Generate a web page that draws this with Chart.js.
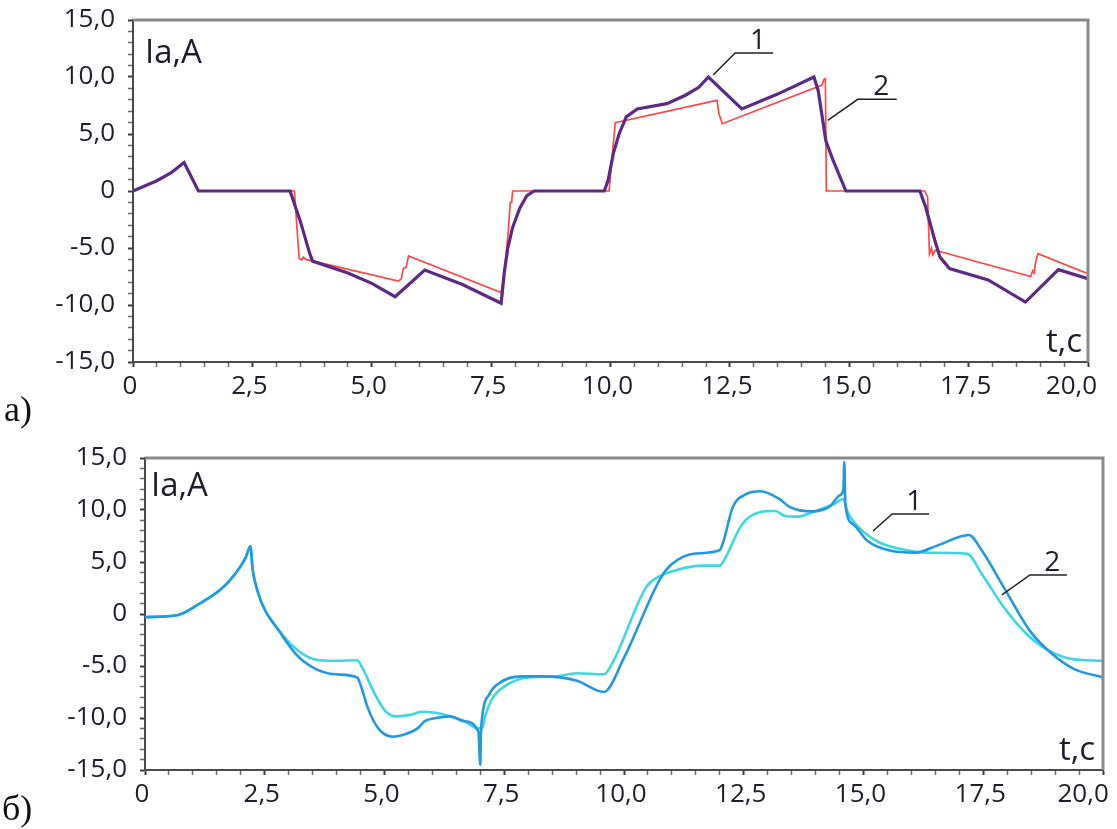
<!DOCTYPE html>
<html>
<head>
<meta charset="utf-8">
<script src="https://cdn.jsdelivr.net/npm/chart.js@4.4.1/dist/chart.umd.min.js"></script>
<style>
  html, body { margin: 0; padding: 0; background: #fff; }
  #wrap { position: relative; width: 1117px; height: 829px; overflow: hidden; background: #fff; }
  canvas { position: absolute; left: 0; }
  #chartA { top: 0; }
  #chartB { top: 430px; }
  .tag { position: absolute; font-family: "Liberation Serif", "DejaVu Serif", serif; font-size: 36px; line-height: 36px; color: #111; }
</style>
</head>
<body>
<div id="wrap">
  <canvas id="chartA" width="1117" height="430"></canvas>
  <canvas id="chartB" width="1117" height="399"></canvas>
  <div class="tag" style="left:4px; top:391px;">а)</div>
  <div class="tag" style="left:2px; top:790px;">б)</div>
</div>
<script>
// Axis ticks (shared by both panels)
const xTickValues = [0, 2.5, 5, 7.5, 10, 12.5, 15, 17.5, 20];
const xTickLabels = ['0', '2,5', '5,0', '7,5', '10,0', '12,5', '15,0', '17,5', '20,0'];
const yTickValues = [-15, -10, -5, 0, 5, 10, 15];
const yTickLabels = ['-15,0', '-10,0', '-5.0', '0', '5,0', '10,0', '15,0'];

// Panel а) — curve 1 (time, s / current, A)
const tA1 = [0, 0.5, 0.8, 1.07, 1.37, 3.29, 3.5, 3.70, 3.76, 4.5, 5.0, 5.49, 6.11, 6.9, 7.71,
  7.78, 7.85, 7.95, 8.1, 8.25, 8.40, 9.87, 9.95, 10.06, 10.18, 10.33, 10.56, 11.18, 11.57, 11.85,
  12.05, 12.75, 13.5, 14.26, 14.35, 14.51, 14.66, 14.93, 16.48, 16.6, 16.79, 16.9, 17.1, 17.91,
  18.69, 19.38, 20];
const iA1 = [0, 0.9, 1.6, 2.5, 0, 0, -2.6, -5.47, -6.15, -7.2, -8.1, -9.27, -6.93, -8.2, -9.85,
  -7.0, -5.0, -3.2, -1.5, -0.4, 0, 0, 0.94, 3.3, 5.0, 6.5, 7.2, 7.66, 8.4, 9.1,
  10.0, 7.2, 8.5, 10.0, 8.8, 4.4, 2.7, 0, 0, -1.4, -4.3, -5.8, -6.8, -7.8,
  -9.74, -6.9, -7.7];

// Panel а) — curve 2
const tA2 = [0, 0.5, 0.8, 1.07, 1.37, 3.38, 3.43, 3.48, 3.53, 3.57, 3.62, 5.56, 5.62, 5.66, 5.72,
  5.77, 7.71, 7.78, 7.86, 7.90, 7.93, 7.95, 9.97, 10.1, 12.23, 12.27, 12.34, 14.43, 14.47, 14.50,
  14.52, 16.58, 16.64, 16.68, 16.72, 16.75, 16.8, 18.8, 18.84, 18.87, 18.9, 18.95, 20];
const iA2 = [0, 0.9, 1.6, 2.5, 0, 0, -3.0, -5.9, -6.05, -5.8, -6.0, -7.9, -7.7, -6.8, -6.7,
  -5.7, -8.9, -7.0, -3.5, -1.0, -1.0, 0, 0, 6.0, 7.95, 6.8, 5.9, 9.3, 9.8, 9.85,
  0, 0, -0.5, -5.5, -5.0, -5.6, -5.2, -7.5, -7.0, -7.2, -6.3, -5.5, -7.25];

// Panel б) — curve 1
const tB1 = [0, 0.69, 1.14, 1.59, 1.89, 2.1, 2.2, 2.25, 2.35, 2.49, 2.78, 3.16, 3.53, 3.98, 4.43,
  4.54, 4.8, 5.02, 5.25, 5.54, 5.77, 6.07, 6.37, 6.66, 6.96, 7.04, 7.11, 7.26, 7.56, 8.0,
  8.6, 9.0, 9.58, 9.77, 10.46, 10.69, 11.16, 11.62, 12.0, 12.08, 12.47, 12.85, 13.16, 13.35, 13.62,
  14.0, 14.39, 14.58, 14.66, 14.93, 15.32, 15.78, 16.32, 17.16, 17.47, 17.93, 18.4, 18.86, 19.32, 20];
const iB1 = [-0.3, -0.1, 1.0, 2.4, 3.9, 5.4, 6.5, 4.2, 2.2, 0.5, -1.5, -3.4, -4.35, -4.5, -4.45,
  -5.2, -7.7, -9.35, -9.84, -9.7, -9.4, -9.5, -9.84, -10.3, -11.0, -10.97, -9.7, -8.06, -6.8, -6.1,
  -6.0, -5.7, -5.8, -4.6, 2.56, 3.5, 4.3, 4.65, 4.65, 5.1, 8.65, 9.8, 9.9, 9.45, 9.36,
  9.9, 10.6, 11.06, 9.9, 8.2, 6.9, 6.25, 5.9, 5.8, 3.85, 0.64, -1.9, -3.5, -4.3, -4.5];

// Panel б) — curve 2
const tB2 = [0, 0.69, 1.14, 1.59, 1.89, 2.1, 2.2, 2.25, 2.35, 2.49, 2.78, 3.16, 3.53, 3.98, 4.43,
  4.5, 4.65, 4.87, 5.17, 5.4, 5.69, 5.84, 6.07, 6.37, 6.66, 6.96, 7.0, 7.01, 7.04, 7.19,
  7.41, 7.86, 8.3, 9.0, 9.58, 10.0, 10.77, 11.0, 11.46, 12.0, 12.08, 12.27, 12.54, 12.85, 13.24,
  13.47, 13.93, 14.31, 14.5, 14.58, 14.6, 14.62, 14.78, 15.08, 15.55, 16.09, 16.55, 17.2, 17.47, 17.93,
  18.47, 18.94, 19.4, 20];
const iB2 = [-0.3, -0.1, 1.0, 2.4, 3.9, 5.4, 6.5, 4.2, 2.2, 0.5, -1.5, -3.9, -5.2, -5.8, -6.1,
  -6.8, -9.0, -11.0, -11.8, -11.6, -11.0, -10.3, -10.0, -9.84, -10.3, -11.3, -14.5, -12.0, -9.9, -7.7,
  -6.6, -6.0, -6.0, -6.4, -7.5, -4.2, 3.5, 4.8, 5.8, 6.15, 7.05, 10.26, 11.5, 11.8, 11.06,
  10.26, 9.87, 10.4, 11.4, 12.0, 14.6, 10.6, 8.65, 7.05, 6.1, 5.9, 6.6, 7.6, 6.1, 2.56,
  -1.6, -3.85, -5.3, -6.1];

const TEXT = '#1d1d2b';
const FONT = '"Open Sans", "Noto Sans", sans-serif';

const toPoints = (ts, vs) => ts.map((t, i) => ({ x: t, y: vs[i] }));
const near = (a, b) => Math.abs(a - b) < 1e-6;

// Frame, axis captions and numbered callouts
const decor = {
  id: 'decor',
  afterDatasetsDraw(chart, args, o) {
    const { ctx, chartArea: a, scales: { x, y } } = chart;
    ctx.save();
    ctx.strokeStyle = '#8a8a8a';
    ctx.lineWidth = 3;
    ctx.beginPath();
    ctx.moveTo(a.left, a.top);
    ctx.lineTo(a.right, a.top);
    ctx.lineTo(a.right, a.bottom);
    ctx.stroke();

    ctx.fillStyle = TEXT;
    ctx.font = '33px ' + FONT;
    ctx.textBaseline = 'alphabetic';
    ctx.textAlign = 'left';
    ctx.fillText('Ia,A', a.left + o.yTitle[0], a.top + o.yTitle[1]);
    ctx.textAlign = 'right';
    ctx.fillText('t,c', a.right - o.xTitle[0], a.bottom - o.xTitle[1]);

    ctx.font = '28px ' + FONT;
    ctx.textAlign = 'center';
    ctx.strokeStyle = '#222';
    ctx.lineWidth = 1.5;
    o.callouts.forEach(c => {
      const px = x.getPixelForValue(c.t);
      const py = y.getPixelForValue(c.v);
      const ex = px + c.dx, ey = py + c.dy;
      ctx.beginPath();
      ctx.moveTo(px, py);
      ctx.lineTo(ex, ey);
      ctx.lineTo(ex + c.len, ey);
      ctx.stroke();
      ctx.fillText(c.text, ex + c.len * 0.6, ey - 4);
    });
    ctx.restore();
  }
};

function makeScales(yWidth, xHeight, lastPad) {
  return {
    x: {
      type: 'linear', min: 0, max: 20, position: 'bottom',
      border: { display: true, color: '#4a4a4a', width: 2 },
      grid: {
        drawOnChartArea: false, drawTicks: true, tickLength: 5,
        tickColor: c => xTickValues.some(v => near(v, c.tick && c.tick.value)) ? '#3c3c3c' : '#6a6a6a',
        tickWidth: c => xTickValues.some(v => near(v, c.tick && c.tick.value)) ? 2 : 1.5
      },
      ticks: {
        stepSize: 0.5, autoSkip: false, maxRotation: 0, minRotation: 0,
        padding: 4, labelOffset: -3, color: TEXT,
        font: { family: FONT, size: 26 },
        callback: v => {
          const k = xTickValues.findIndex(t => near(t, v));
          if (k < 0) return '';
          return k === xTickValues.length - 1 ? xTickLabels[k] + ' '.repeat(lastPad) : xTickLabels[k];
        }
      },
      afterFit(s) { s.height = xHeight; s.paddingLeft = 0; s.paddingRight = 0; }
    },
    y: {
      type: 'linear', min: -15, max: 15, position: 'left',
      border: { display: true, color: '#4a4a4a', width: 2 },
      grid: {
        drawOnChartArea: false, drawTicks: true, tickLength: 5,
        tickColor: c => yTickValues.includes(c.tick && c.tick.value) ? '#3c3c3c' : '#6a6a6a',
        tickWidth: c => yTickValues.includes(c.tick && c.tick.value) ? 2 : 1.5
      },
      ticks: {
        stepSize: 1, autoSkip: false, padding: 13, color: TEXT,
        font: { family: FONT, size: 26 },
        callback: v => {
          const k = yTickValues.indexOf(v);
          return k < 0 ? '' : yTickLabels[k];
        }
      },
      afterFit(s) { s.width = yWidth; s.paddingTop = 0; s.paddingBottom = 0; }
    }
  };
}

const common = {
  responsive: false, animation: false, devicePixelRatio: 1,
  elements: { point: { radius: 0 } },
};

new Chart(document.getElementById('chartA'), {
  type: 'line',
  data: {
    datasets: [
      { data: toPoints(tA1, iA1), borderColor: '#5b2a82', borderWidth: 3.2, tension: 0, fill: false },
      { data: toPoints(tA2, iA2), borderColor: 'rgba(255,40,40,0.85)', borderWidth: 1.7, tension: 0, fill: false }
    ]
  },
  options: {
    ...common,
    layout: { padding: { left: 0, top: 20, right: 29, bottom: 0 } },
    scales: makeScales(133, 68, 4),
    plugins: {
      legend: { display: false }, tooltip: { enabled: false },
      decor: {
        yTitle: [12, 43], xTitle: [6, 10],
        callouts: [
          { text: '1', t: 12.15, v: 10.18, dx: 22, dy: -22, len: 38 },
          { text: '2', t: 14.55, v: 6.2, dx: 30, dy: -21, len: 39 }
        ]
      }
    }
  },
  plugins: [decor]
});

new Chart(document.getElementById('chartB'), {
  type: 'line',
  data: {
    datasets: [
      { data: toPoints(tB2, iB2), borderColor: '#2398e2', borderWidth: 2.6, cubicInterpolationMode: 'monotone', fill: false },
      { data: toPoints(tB1, iB1), borderColor: '#3cd8e2', borderWidth: 2.6, cubicInterpolationMode: 'monotone', fill: false }
    ]
  },
  options: {
    ...common,
    layout: { padding: { left: 0, top: 28, right: 14, bottom: 0 } },
    scales: makeScales(145, 59, 5),
    plugins: {
      legend: { display: false }, tooltip: { enabled: false },
      decor: {
        yTitle: [6, 38], xTitle: [8, 10],
        callouts: [
          { text: '1', t: 15.2, v: 7.98, dx: 19, dy: -17, len: 37 },
          { text: '2', t: 17.89, v: 1.83, dx: 28, dy: -20, len: 37 }
        ]
      }
    }
  },
  plugins: [decor]
});
</script>
</body>
</html>
